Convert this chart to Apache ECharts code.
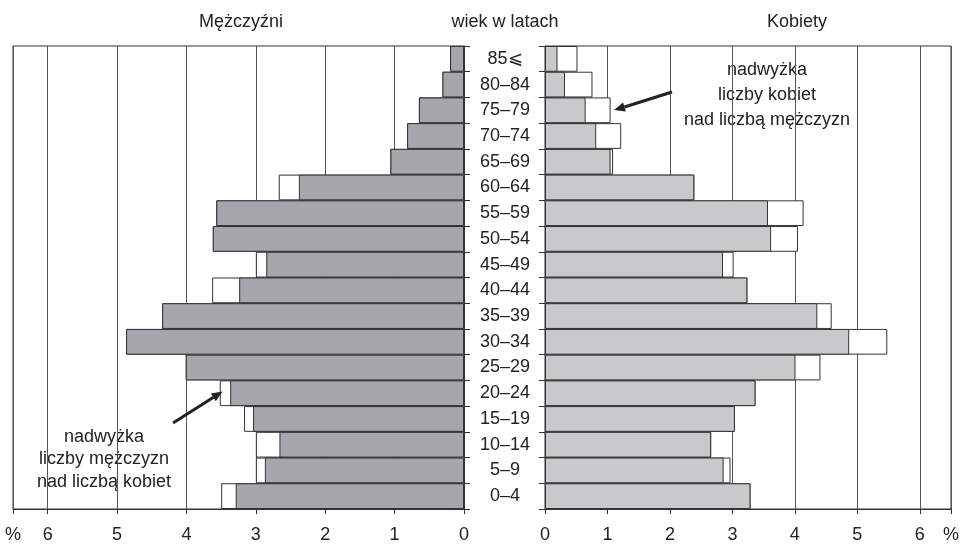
<!DOCTYPE html>
<html>
<head>
<meta charset="utf-8">
<script src="https://cdn.jsdelivr.net/npm/echarts@6/dist/echarts.min.js"></script>
<style>
html,body{margin:0;padding:0;background:#fff;}
#chart{width:962px;height:545px;}
</style>
</head>
<body>
<div id="chart"></div>
<script>
// Age groups (bottom to top)
const ages = ['0–4','5–9','10–14','15–19','20–24','25–29','30–34','35–39','40–44','45–49','50–54','55–59','60–64','65–69','70–74','75–79','80–84','85⩽'];
// Men: grey part and end of white (surplus) part, % of population
const menGray  = [3.29,2.87,2.66,3.04,3.37,4.01,4.87,4.35,3.24,2.85,3.62,3.57,2.38,1.06,0.82,0.65,0.31,0.20];
const menTotal = [3.50,3.00,3.00,3.17,3.52,4.01,4.87,4.35,3.63,3.00,3.62,3.57,2.67,1.06,0.82,0.65,0.31,0.20];
// Women
const womenGray  = [3.29,2.86,2.66,3.04,3.37,4.01,4.87,4.36,3.24,2.85,3.62,3.57,2.39,1.05,0.82,0.65,0.32,0.20];
const womenTotal = [3.29,2.97,2.66,3.04,3.37,4.41,5.48,4.59,3.24,3.02,4.05,4.14,2.39,1.09,1.22,1.05,0.76,0.52];
// Tick labels
const tickLabels = ['0','1','2','3','4','5','6'];
const pctSign = '%';
const axisMax = 6.5;
const headers = ['Mężczyźni','wiek w latach','Kobiety'];
const noteWomen = ['nadwyżka','liczby kobiet','nad liczbą mężczyzn'];
const noteMen = ['nadwyżka','liczby mężczyzn','nad liczbą kobiet'];

const FONT = 'Liberation Sans, Arial, Helvetica, sans-serif';
const chart = echarts.init(document.getElementById('chart'), null, {renderer:'canvas'});

function xAxisCfg(idx, inverse){
  return {
    gridIndex: idx, type:'value', min:0, max:axisMax, interval:1, inverse: inverse,
    axisLine:{show:true, lineStyle:{color:'#333', width:1}},
    axisTick:{show:true, length:5, lineStyle:{color:'#333'}},
    splitLine:{show:true, lineStyle:{color:'#555', width:1}},
    axisLabel:{show:true, showMaxLabel:true, showMinLabel:true, fontSize:18, color:'#222', fontFamily:FONT, margin:17,
      formatter: v => (Math.abs(v-axisMax)<1e-9 ? pctSign : (tickLabels[Math.round(v)] !== undefined && Math.abs(v-Math.round(v))<1e-9 ? tickLabels[Math.round(v)] : ''))}
  };
}
function yAxisCfg(idx, pos, showLabel){
  return {
    gridIndex: idx, type:'category', data: ages, position: pos, boundaryGap:true,
    axisLine:{show:true, lineStyle:{color:'#333', width:1}},
    axisTick:{show:true, length:6, lineStyle:{color:'#333'}},
    splitLine:{show:false},
    axisLabel:{show:showLabel, margin:40, align:'center', fontSize:18, color:'#222', fontFamily:FONT, interval:0}
  };
}
function barSeries(xi, data, color, z){
  return {
    type:'bar', xAxisIndex:xi, yAxisIndex:xi, data:data, barGap:'-100%', barCategoryGap:'0%',
    itemStyle:{color:color, borderColor:'#333', borderWidth:1}, z:z, silent:true, animation:false
  };
}

const graphics = [];
const hx = [241, 505, 797];
headers.forEach((t,i)=>graphics.push({type:'text', x:hx[i], y:22, style:{text:t, font:'18px '+FONT, fill:'#222', textAlign:'center', textVerticalAlign:'middle'}}));
noteWomen.forEach((t,i)=>graphics.push({type:'text', x:767, y:70+i*25, style:{text:t, font:'18px '+FONT, fill:'#222', textAlign:'center', textVerticalAlign:'middle'}}));
noteMen.forEach((t,i)=>graphics.push({type:'text', x:104, y:437+i*22.5, style:{text:t, font:'18px '+FONT, fill:'#222', textAlign:'center', textVerticalAlign:'middle'}}));
// arrows
graphics.push({type:'line', shape:{x1:672,y1:92,x2:624.5,y2:107}, style:{stroke:'#222', lineWidth:3}, z:100});
graphics.push({type:'polygon', shape:{points:[[614,110],[625.9,111.5],[623.1,102.5]]}, style:{fill:'#222'}, z:100});
graphics.push({type:'line', shape:{x1:173,y1:423,x2:213.5,y2:397.3}, style:{stroke:'#222', lineWidth:3}, z:100});
graphics.push({type:'polygon', shape:{points:[[222.5,391.5],[215.8,401.2],[210.9,393.4]]}, style:{fill:'#222'}, z:100});

chart.setOption({
  animation:false,
  backgroundColor:'#fff',
  textStyle:{fontFamily:FONT},
  grid:[
    {left:13, top:46, width:451, height:463, show:true, borderColor:'#333', borderWidth:1, backgroundColor:'transparent'},
    {left:545, top:46, width:407, height:463, show:true, borderColor:'#333', borderWidth:1, backgroundColor:'transparent'}
  ],
  xAxis:[xAxisCfg(0,true), xAxisCfg(1,false)],
  yAxis:[yAxisCfg(0,'right',false), yAxisCfg(1,'left',true)],
  series:[
    barSeries(0, menTotal, '#ffffff', 2),
    barSeries(0, menGray, '#a6a7aa', 3),
    barSeries(1, womenTotal, '#ffffff', 2),
    barSeries(1, womenGray, '#c8c9cb', 3)
  ],
  graphic: graphics
});
</script>
</body>
</html>
